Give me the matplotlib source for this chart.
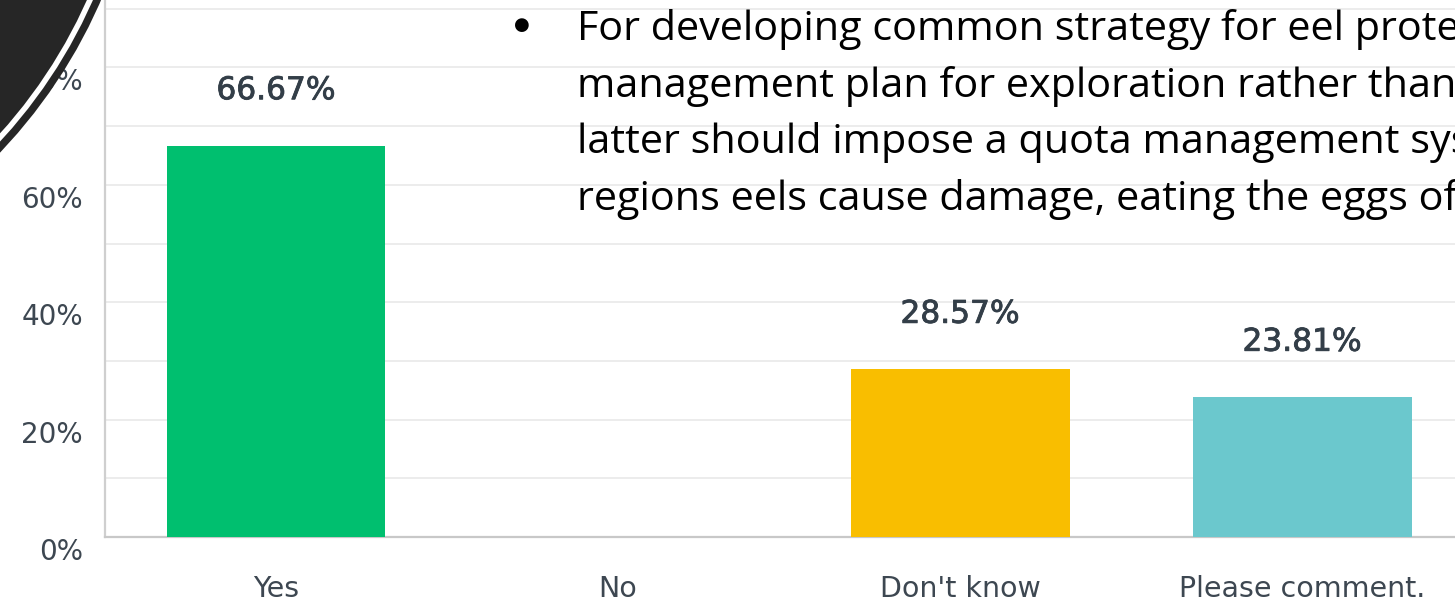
import matplotlib
matplotlib.use("Agg")
import matplotlib.pyplot as plt
from matplotlib.patches import Circle
from matplotlib.transforms import ScaledTranslation
import matplotlib.patheffects as pe
import numpy as np

# Survey results
categories = ["Yes", "No", "Don't know", "Please comment."]
percent = [66.67, 0.0, 28.57, 23.81]
bar_colors = ["#00BF6F", "#00BF6F", "#F9BE00", "#6BC8CD"]
ytick_values = [0, 20, 40, 60, 80]
ytick_labels = ["0%", "20%", "40%", "60%", "80%"]

note_lines = [
    "For developing common strategy for eel protection",
    "management plan for exploration rather than",
    "latter should impose a quota management system",
    "regions eels cause damage, eating the eggs of",
]

W, H, DPI = 1455, 602, 100
fig = plt.figure(figsize=(W / DPI, H / DPI), dpi=DPI, facecolor="white")

# ---- bar chart -------------------------------------------------------------
ax = fig.add_axes([105 / W, (H - 537) / H, 1 - 105 / W, 537 / H])
x = np.arange(len(categories))
ax.bar(x, percent, width=0.64, color=bar_colors, zorder=3)

ax.set_xlim(-0.5, 3.447)
ax.set_ylim(0, 91.5)

ax.set_yticks(ytick_values)
ax.set_yticklabels(ytick_labels)
ax.set_yticks(np.arange(10, 100, 20), minor=True)
ax.yaxis.grid(True, which="both", color="#ececec", linewidth=1.4, zorder=0)
ax.set_axisbelow(True)

ax.set_xticks(x)
ax.set_xticklabels(categories)

tick_color = "#3d4751"
ax.tick_params(axis="x", length=0, pad=27.5, labelsize=20.5, labelcolor=tick_color)
ax.tick_params(axis="y", which="both", length=0, pad=16, labelsize=20,
               labelcolor=tick_color)
shift = ScaledTranslation(0, -0.12, fig.dpi_scale_trans)
for lab in ax.get_yticklabels():
    lab.set_transform(lab.get_transform() + shift)

for side in ("top", "right"):
    ax.spines[side].set_visible(False)
ax.spines["left"].set_color("#cfcfcf")
ax.spines["left"].set_linewidth(1.6)
ax.spines["bottom"].set_color("#c8c8c8")
ax.spines["bottom"].set_linewidth(1.6)

for xi, v in zip(x, percent):
    if v > 0:
        ax.annotate(f"{v:.2f}%", (xi, v), xytext=(0, 39.6),
                    textcoords="offset points", ha="center", va="center",
                    fontsize=22.5, color="#333e48",
                    path_effects=[pe.withStroke(linewidth=0.6,
                                                foreground="#333e48")])

# ---- slide overlay (pixel coordinates) ------------------------------------
ov = fig.add_axes([0, 0, 1, 1])
ov.set_xlim(0, W)
ov.set_ylim(H, 0)
ov.axis("off")
ov.patch.set_alpha(0)

cx, cy = -377, -207
ov.add_patch(Circle((cx, cy), 521, facecolor="#262626", edgecolor="none"))
ov.add_patch(Circle((cx, cy), 513.5, facecolor="white", edgecolor="none"))
ov.add_patch(Circle((cx, cy), 508, facecolor="#262626", edgecolor="none"))

text_font = "Open Sans"
text_size = 29.8
baselines = [40, 97, 153, 210]
ov.text(522, 25, "\u25CF", fontsize=13, family="DejaVu Sans",
        ha="center", va="center", color="black")
for yb, line in zip(baselines, note_lines):
    ov.text(577, yb, line, fontsize=text_size, family=text_font, ha="left",
            va="baseline", color="black")

fig.savefig("out.png", dpi=DPI, facecolor="white")
